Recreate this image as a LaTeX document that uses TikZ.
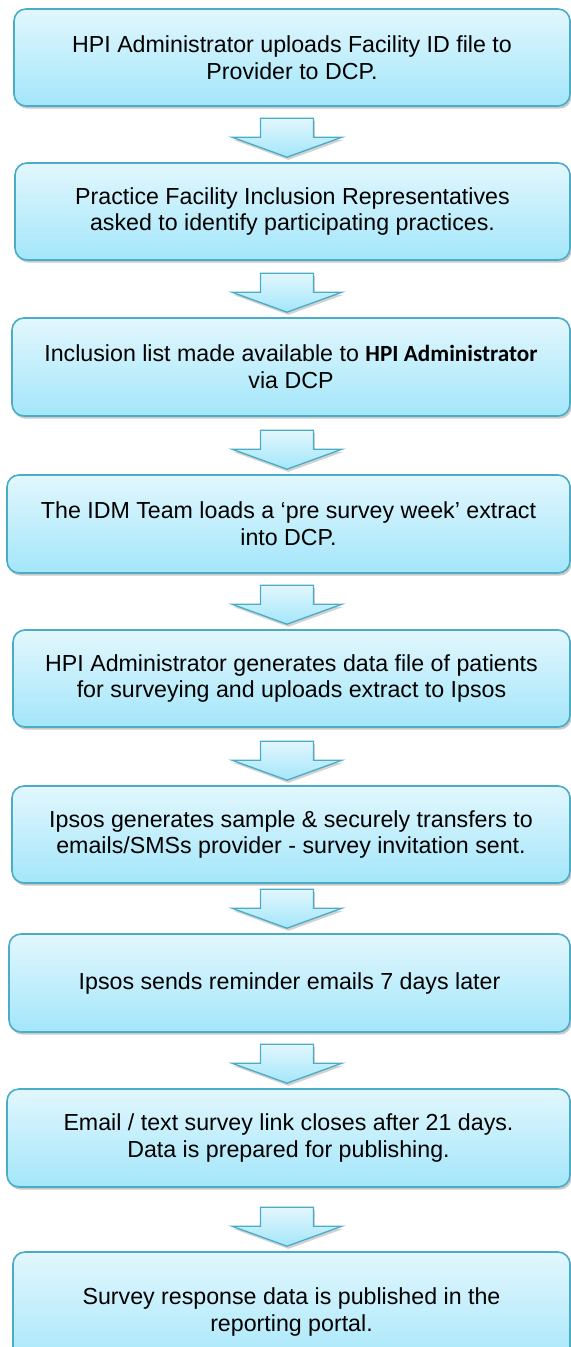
\documentclass[tikz,border=0pt]{standalone}
\usepackage{fontspec}
\setmainfont{Liberation Sans}
\newfontfamily\calibri{Carlito}
\usetikzlibrary{shadows}

\definecolor{aqualine}{HTML}{4BACC6}
\definecolor{aquatop}{HTML}{E2F7FD}
\definecolor{aquabottom}{HTML}{A3E6FA}

\tikzset{
    stepbox/.style={draw=aqualine, line width=1.2pt, rounded corners=9pt,
        top color=aquatop, bottom color=aquabottom,
        drop shadow={shadow xshift=1.2pt, shadow yshift=-2pt, opacity=0.3, fill=black!70},
        inner sep=0pt, align=center, font=\fontsize{17.4}{20}\selectfont},
    flowarrow/.style={draw=aqualine, line width=1pt,
        top color=aquatop, bottom color=aquabottom,
        drop shadow={shadow xshift=1pt, shadow yshift=-2pt, opacity=0.25, fill=black!70}}
}

\begin{document}
\begin{tikzpicture}[x=0.75pt, y=-0.75pt]
    \useasboundingbox (0,0) rectangle (571,1347);
    % boxes: number / left / top / bottom / text
    \foreach \n/\l/\t/\b/\txt in {
        1/14/9/106/{HPI Administrator uploads Facility ID file to\\Provider to DCP.},
        2/15/163/260/{Practice Facility Inclusion Representatives\\asked to identify participating practices.},
        3/12/318/416/{Inclusion list made available to {\calibri\bfseries HPI Administrator}\\via DCP},
        4/7/475/573/{The IDM Team loads a ‘pre survey week’ extract\\into DCP.},
        5/13/630/727/{HPI Administrator generates data file of patients\\for surveying and uploads extract to Ipsos},
        6/12/786/883/{Ipsos generates sample \& securely transfers to\\emails/SMSs provider - survey invitation sent.},
        7/9/934/1032/{Ipsos sends reminder emails 7 days later},
        8/7/1089/1187/{Email / text survey link closes after 21 days.\\Data is prepared for publishing.},
        9/13/1252/1372/{Survey response data is published in the\\reporting portal.}} {
        \node[stepbox, minimum width={(570-\l)*0.75pt}, minimum height={(\b-\t)*0.75pt}]
            (box\n) at ({(\l+570)/2},{(\t+\b)/2}) {\txt};
    }
    % block arrows between the boxes
    \coordinate (axis) at (287,0);
    \foreach \i [count=\j from 2] in {1,...,8} {
        \path (axis |- box\j.north) ++(0,-5) coordinate (tip\i);
        \draw[flowarrow] (tip\i) -- ++(55,-20) -- ++(-28.5,0) -- ++(0,-19)
            -- ++(-53,0) -- ++(0,19) -- ++(-28.5,0) -- cycle;
    }
\end{tikzpicture}
\end{document}
